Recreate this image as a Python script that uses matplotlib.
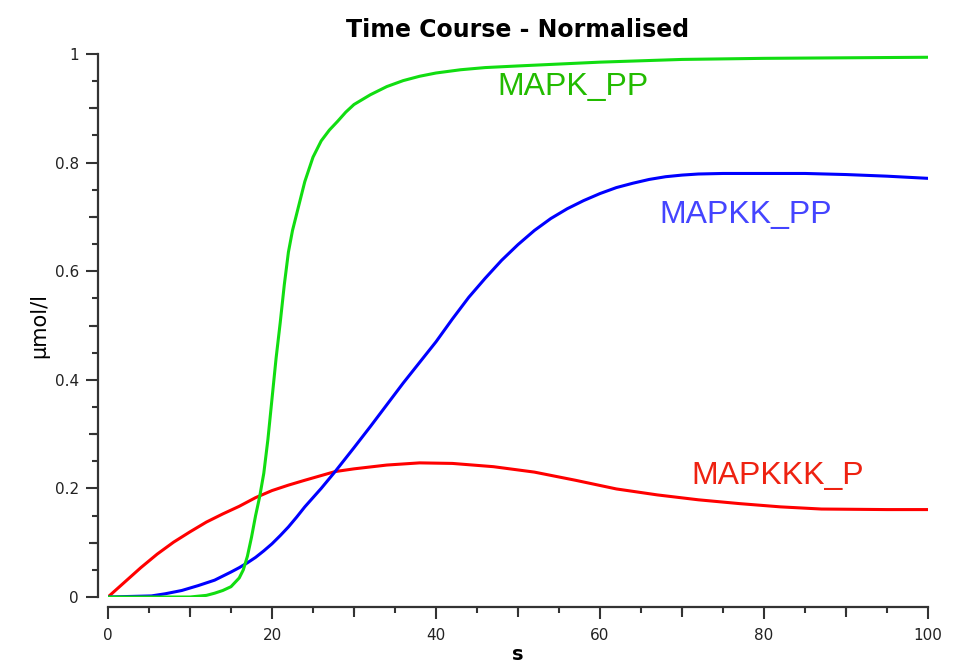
import matplotlib
matplotlib.use("Agg")
import matplotlib.pyplot as plt
from matplotlib.ticker import MultipleLocator

# MAPK_PP (green)
t_mapk = [0, 10, 12, 13, 14, 15, 16, 16.5, 17, 17.5, 18, 18.5, 19, 19.5, 20, 20.5, 21,
          21.5, 22, 22.5, 23, 24, 25, 26, 27, 28, 29, 30, 32, 34, 36, 38, 40, 43, 46,
          50, 60, 70, 80, 90, 100]
v_mapk = [0, 0, 0.003, 0.007, 0.012, 0.019, 0.035, 0.05, 0.075, 0.11, 0.15, 0.185, 0.228,
          0.29, 0.365, 0.44, 0.505, 0.575, 0.635, 0.675, 0.705, 0.765, 0.81, 0.84, 0.86,
          0.876, 0.893, 0.907, 0.925, 0.94, 0.951, 0.959, 0.965, 0.971, 0.975, 0.978,
          0.985, 0.99, 0.992, 0.993, 0.994]

# MAPKK_PP (blue)
t_mapkk = [0, 5.3, 7, 9, 11, 13, 15, 16, 17, 18, 19, 20, 21, 22, 23, 24, 25, 26, 27.7, 30,
           32, 34, 36, 38, 40, 42, 44, 46, 48, 50, 52, 54, 56, 58, 60, 62, 64, 66, 68, 70,
           72, 75, 80, 85, 90, 95, 100]
v_mapkk = [0, 0.002, 0.006, 0.012, 0.021, 0.031, 0.046, 0.054, 0.063, 0.073, 0.085, 0.098,
           0.113, 0.129, 0.147, 0.166, 0.183, 0.2, 0.231, 0.275, 0.314, 0.354, 0.394, 0.432,
           0.47, 0.512, 0.552, 0.587, 0.62, 0.649, 0.675, 0.697, 0.715, 0.73, 0.743, 0.754,
           0.762, 0.769, 0.774, 0.777, 0.779, 0.78, 0.78, 0.78, 0.778, 0.775, 0.771]

# MAPKKK_P (red)
t_mapkkk = [0, 2, 4, 6, 8, 10, 12, 14, 16, 18, 20, 22, 24, 27.7, 30, 34, 38, 42, 47, 52,
            57, 62, 67, 72, 77, 82, 87, 95, 100]
v_mapkkk = [0, 0.027, 0.054, 0.079, 0.101, 0.12, 0.138, 0.153, 0.167, 0.183, 0.196, 0.206,
            0.215, 0.231, 0.236, 0.243, 0.247, 0.246, 0.24, 0.23, 0.215, 0.199, 0.188,
            0.179, 0.172, 0.166, 0.162, 0.161, 0.161]

tick_col = "#333333"

fig = plt.figure(figsize=(9.62, 6.67), dpi=100)
ax = fig.add_axes([108 / 962, 70 / 667, 820 / 962, 543 / 667])

ax.plot(t_mapkkk, v_mapkkk, color="#ff0000", lw=2.2)
ax.plot(t_mapkk, v_mapkk, color="#0000ff", lw=2.2)
ax.plot(t_mapk, v_mapk, color="#11dd11", lw=2.2)

ax.text(47.5, 0.94, "MAPK_PP", color="#22bb00", fontsize=23, family="Liberation Sans", va="center")
ax.text(67.3, 0.704, "MAPKK_PP", color="#4444ff", fontsize=23, family="Liberation Sans", va="center")
ax.text(71.2, 0.222, "MAPKKK_P", color="#ee2211", fontsize=23, family="Liberation Sans", va="center")

ax.set_xlim(0, 100)
ax.set_ylim(0, 1)
for s in ["top", "right"]:
    ax.spines[s].set_visible(False)
ax.spines["left"].set_position(("outward", 7.5))
ax.spines["bottom"].set_position(("outward", 7.5))
for s in ["left", "bottom"]:
    ax.spines[s].set_color(tick_col)
    ax.spines[s].set_linewidth(1.6)

ax.xaxis.set_major_locator(MultipleLocator(20))
ax.xaxis.set_minor_locator(MultipleLocator(5))
ax.yaxis.set_major_locator(MultipleLocator(0.2))
ax.yaxis.set_minor_locator(MultipleLocator(0.05))
ax.yaxis.set_major_formatter(plt.FuncFormatter(lambda v, p: "%g" % round(v, 2)))
ax.tick_params(which="major", length=8.5, width=1.5, color=tick_col, labelsize=11,
               labelcolor="#222222")
ax.tick_params(axis="x", which="major", pad=6)
ax.tick_params(axis="y", which="major", pad=5)
ax.tick_params(which="minor", length=4.5, width=1.5, color=tick_col)

# medium ticks at every 10 s / 0.1
secx = ax.secondary_xaxis(-10 / 543)
secx.set_xticks([10, 30, 50, 70, 90])
secx.tick_params(length=7, width=1.5, color=tick_col, labelbottom=False)
secx.spines["bottom"].set_visible(False)
secy = ax.secondary_yaxis(-10 / 820)
secy.set_yticks([0.1, 0.3, 0.5, 0.7, 0.9])
secy.tick_params(length=6.5, width=1.5, color=tick_col, labelleft=False)
secy.spines["left"].set_visible(False)

ax.set_title("Time Course - Normalised", fontsize=17, fontweight="bold", pad=12)
ax.set_xlabel("s", fontsize=14, fontweight="bold", labelpad=2)
ax.set_ylabel("µmol/l", fontsize=15, labelpad=4)

fig.savefig("out.png", dpi=100)
